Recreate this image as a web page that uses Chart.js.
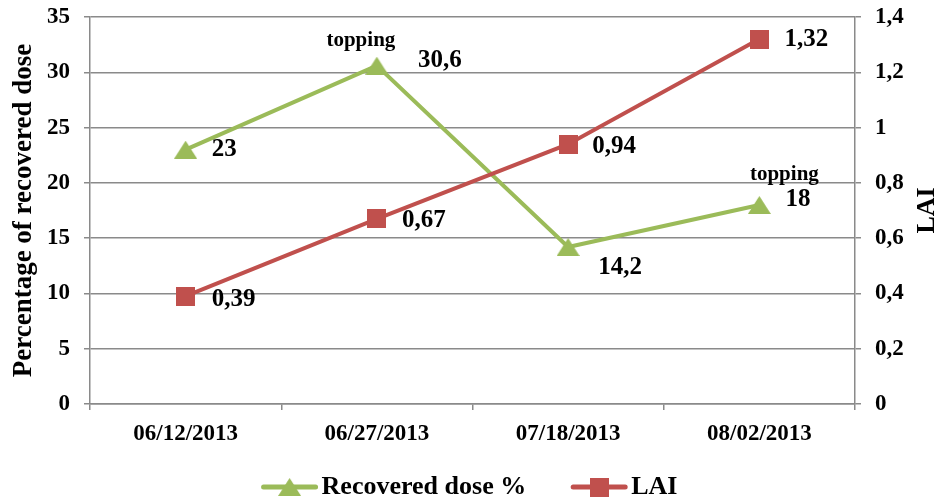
<!DOCTYPE html>
<html>
<head>
<meta charset="utf-8">
<script src="https://cdn.jsdelivr.net/npm/chart.js@4/dist/chart.umd.min.js"></script>
<style>
  html, body { margin: 0; padding: 0; background: #ffffff; }
  canvas { display: block; }
</style>
</head>
<body>
<canvas id="chart" width="939" height="499"></canvas>
<script>
// ---- data ----
const dates = ['06/12/2013', '06/27/2013', '07/18/2013', '08/02/2013'];
const recoveredDose = [23, 30.6, 14.2, 18];
const lai = [0.39, 0.67, 0.94, 1.32];
const doseNotes = ['', 'topping', '', 'topping'];
const doseTicks = [0, 5, 10, 15, 20, 25, 30, 35];
const laiTicks = [0, 0.2, 0.4, 0.6, 0.8, 1, 1.2, 1.4];

// ---- look ----
const GREEN = '#9BBB59';
const RED = '#C0504D';
const GRID = '#8A8A8A';
const FONT = "'Liberation Serif', 'Times New Roman', serif";

// label placement relative to each point [dx, dy]
const doseLabelOffsets = [[26, 0], [41, -5], [30, 21], [26, -5]];
const laiLabelOffsets = [[26, 3], [25, 2], [24, 2], [25, 0]];
const noteOffsets = [null, [-16, -25], null, [25, -30]];

const fmt = v => String(Number(v.toFixed(2))).replace('.', ',');

function makeTriangle(w, h, color) {
  const c = document.createElement('canvas');
  c.width = w; c.height = h;
  const g = c.getContext('2d');
  g.fillStyle = color;
  g.beginPath();
  g.moveTo(w / 2, 0);
  g.lineTo(w, h);
  g.lineTo(0, h);
  g.closePath();
  g.fill();
  return c;
}
function makeSquare(s, color) {
  const c = document.createElement('canvas');
  c.width = s; c.height = s;
  const g = c.getContext('2d');
  g.fillStyle = color;
  g.fillRect(0, 0, s, s);
  return c;
}
const triangleMark = makeTriangle(23, 18, GREEN);
const squareMark = makeSquare(19, RED);

// vertical axes: fixed width, no extra room reserved for the end labels
const fitVertical = width => s => {
  s.width = width;
  s.paddingTop = 0;
  s.paddingBottom = 0;
};

// value labels, notes, right-hand title and the legend
const annotate = {
  id: 'annotate',
  afterDatasetsDraw(chart) {
    const ctx = chart.ctx;
    ctx.save();
    ctx.fillStyle = '#000';
    ctx.textBaseline = 'middle';

    const doseMeta = chart.getDatasetMeta(0);
    const laiMeta = chart.getDatasetMeta(1);

    ctx.font = `bold 25px ${FONT}`;
    ctx.textAlign = 'left';
    doseMeta.data.forEach((pt, i) => {
      const [dx, dy] = doseLabelOffsets[i];
      ctx.fillText(fmt(recoveredDose[i]), pt.x + dx, pt.y + dy);
    });
    laiMeta.data.forEach((pt, i) => {
      const [dx, dy] = laiLabelOffsets[i];
      ctx.fillText(fmt(lai[i]), pt.x + dx, pt.y + dy);
    });

    ctx.font = `bold 21px ${FONT}`;
    ctx.textAlign = 'center';
    doseMeta.data.forEach((pt, i) => {
      if (!doseNotes[i]) return;
      const [dx, dy] = noteOffsets[i];
      ctx.fillText(doseNotes[i], pt.x + dx, pt.y + dy);
    });
    ctx.restore();
  },
  afterDraw(chart) {
    const ctx = chart.ctx;
    const area = chart.chartArea;
    ctx.save();

    // right axis title, reading upward
    ctx.font = `bold 26px ${FONT}`;
    ctx.fillStyle = '#000';
    ctx.textAlign = 'center';
    ctx.textBaseline = 'middle';
    ctx.translate(927, (area.top + area.bottom) / 2);
    ctx.rotate(-Math.PI / 2);
    ctx.fillText('LAI', 0, 0);
    ctx.setTransform(1, 0, 0, 1, 0, 0);

    // legend
    const items = chart.data.datasets.map(ds => ({
      text: ds.label, color: ds.borderColor, mark: ds.pointStyle
    }));
    ctx.font = `bold 26px ${FONT}`;
    const lineLen = 56, gapText = 4, gapItem = 45;
    let total = 0;
    items.forEach((it, i) => {
      it.w = ctx.measureText(it.text).width;
      total += lineLen + gapText + it.w + (i ? gapItem : 0);
    });
    let x = chart.width / 2 - total / 2;
    const y = 487;
    items.forEach(it => {
      ctx.strokeStyle = it.color;
      ctx.lineWidth = 5;
      ctx.lineCap = 'round';
      ctx.beginPath();
      ctx.moveTo(x + 2, y);
      ctx.lineTo(x + lineLen - 2, y);
      ctx.stroke();
      const m = it.mark;
      ctx.drawImage(m, x + lineLen / 2 - m.width / 2, y - m.height / 2);
      ctx.fillStyle = '#000';
      ctx.textAlign = 'left';
      ctx.textBaseline = 'middle';
      ctx.fillText(it.text, x + lineLen + gapText, y);
      x += lineLen + gapText + it.w + gapItem;
    });
    ctx.restore();
  }
};

new Chart(document.getElementById('chart'), {
  type: 'line',
  data: {
    labels: dates,
    datasets: [
      {
        label: 'Recovered dose %',
        data: recoveredDose,
        yAxisID: 'y',
        borderColor: GREEN,
        backgroundColor: GREEN,
        borderWidth: 4,
        pointStyle: triangleMark,
        pointRadius: 10,
        tension: 0,
        order: 1
      },
      {
        label: 'LAI',
        data: lai,
        yAxisID: 'y1',
        borderColor: RED,
        backgroundColor: RED,
        borderWidth: 4,
        pointStyle: squareMark,
        pointRadius: 10,
        tension: 0,
        order: 0
      }
    ]
  },
  options: {
    responsive: false,
    animation: false,
    devicePixelRatio: 1,
    layout: { padding: { top: 17, bottom: 45, left: 0, right: 0 } },
    plugins: { legend: { display: false }, tooltip: { enabled: false } },
    scales: {
      x: {
        offset: true,
        grid: { offset: true, drawOnChartArea: false, color: GRID, lineWidth: 1.5, tickLength: 6 },
        border: { color: GRID, width: 1.5 },
        ticks: { color: '#000', font: { family: FONT, size: 23, weight: 'bold' }, padding: 10, maxRotation: 0 },
        afterFit(s) { s.height = 50; s.paddingLeft = 0; s.paddingRight = 0; }
      },
      y: {
        position: 'left',
        min: 0,
        max: 35,
        afterBuildTicks(s) { s.ticks = doseTicks.map(v => ({ value: v })); },
        grid: { color: GRID, lineWidth: 1.5, tickLength: 6 },
        border: { color: GRID, width: 1.5 },
        ticks: { color: '#000', font: { family: FONT, size: 23, weight: 'bold' }, padding: 14, callback: v => fmt(v) },
        title: {
          display: true,
          text: 'Percentage of recovered dose',
          color: '#000',
          font: { family: FONT, size: 27, weight: 'bold' },
          padding: { top: 8, bottom: 0 }
        },
        afterFit: fitVertical(90)
      },
      y1: {
        position: 'right',
        min: 0,
        max: 1.4,
        afterBuildTicks(s) { s.ticks = laiTicks.map(v => ({ value: v })); },
        grid: { drawOnChartArea: false, color: GRID, lineWidth: 1.5, tickLength: 6 },
        border: { color: GRID, width: 1.5 },
        ticks: { color: '#000', font: { family: FONT, size: 23, weight: 'bold' }, padding: 14, callback: v => fmt(v) },
        afterFit: fitVertical(84)
      }
    }
  },
  plugins: [annotate]
});
</script>
</body>
</html>
